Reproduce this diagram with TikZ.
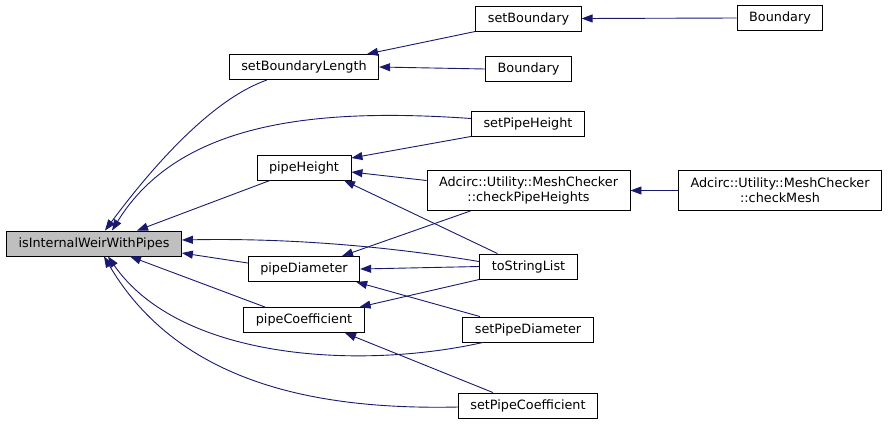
\documentclass[tikz,border=0pt]{standalone}
\usepackage{xcolor}
\usepackage{fontspec}
\setmainfont{DejaVu Sans}
\usepackage{tikz}
\usetikzlibrary{arrows.meta, calc}

\definecolor{edgeblue}{HTML}{191970}
\definecolor{selfgray}{HTML}{BFBFBF}

\tikzset{
    fn/.style={draw=black, line width=0.9pt, fill=white, inner xsep=12pt, inner ysep=0pt,
        minimum height=25pt, align=center, font=\fontsize{12.8}{15}\selectfont},
    self/.style={fn, fill=selfgray},
    call/.style={edgeblue, line width=0.9pt, {Triangle[length=11pt,width=8pt]}-}
}

\begin{document}
\begin{tikzpicture}[x=1pt, y=-1pt]
    \useasboundingbox (0,0) rectangle (888,424);

    \node[self] (isIWWP) at (94,243.5) {isInternalWeirWithPipes};
    \node[fn] (setBoundaryLength) at (304,67) {setBoundaryLength};
    \node[fn] (pipeHeight) at (304,167.5) {pipeHeight};
    \node[fn] (pipeDiameter) at (304,269) {pipeDiameter};
    \node[fn] (pipeCoefficient) at (304,320) {pipeCoefficient};
    \node[fn] (setBoundary) at (528.5,18.5) {setBoundary};
    \node[fn] (boundaryB) at (528.5,69) {Boundary};
    \node[fn] (setPipeHeight) at (528,123.5) {setPipeHeight};
    \node[fn, minimum height=40pt] (checkPipeHeights) at (528.5,190.5) {Adcirc::Utility::MeshChecker\\::checkPipeHeights};
    \node[fn] (toStringList) at (528.5,266.5) {toStringList};
    \node[fn] (setPipeDiameter) at (528,329.5) {setPipeDiameter};
    \node[fn] (setPipeCoefficient) at (528,405.5) {setPipeCoefficient};
    \node[fn] (boundaryA) at (780,18) {Boundary};
    \node[fn, minimum height=40pt] (checkMesh) at (780,190.5) {Adcirc::Utility::MeshChecker\\::checkMesh};

    \draw[call] ([xshift=11]isIWWP.north) .. controls (150,170) and (210,100) .. ([xshift=-37]setBoundaryLength.south);
    \draw[call] ([xshift=18]isIWWP.north) .. controls (180,120) and (320,108) .. ([yshift=5]setPipeHeight.west);
    \draw[call] ([xshift=43]isIWWP.north) -- ([xshift=-34]pipeHeight.south);
    \draw[call] ([yshift=3.5]isIWWP.east) .. controls (280,238) and (380,245) .. ([yshift=-8]toStringList.north west);
    \draw[call] ([yshift=-9.5]isIWWP.east) -- ([yshift=6]pipeDiameter.west);
    \draw[call] ([xshift=36]isIWWP.south) -- ([xshift=-39]pipeCoefficient.north);
    \draw[call] ([xshift=14]isIWWP.south) .. controls (180,360) and (360,370) .. ([xshift=-45]setPipeDiameter.south);
    \draw[call] ([xshift=10]isIWWP.south) .. controls (180,385) and (320,410) .. ([yshift=-1.5]setPipeCoefficient.west);

    \draw[call] ([xshift=63]setBoundaryLength.north) -- (setBoundary.south west);
    \draw[call] (setBoundaryLength.east) -- (boundaryB.west);
    \draw[call] (setBoundary.east) -- (boundaryA.west);

    \draw[call] ([yshift=9.5]pipeHeight.east) -- (setPipeHeight.south west);
    \draw[call] ([yshift=-4.5]pipeHeight.east) -- ([yshift=10]checkPipeHeights.west);
    \draw[call] ([xshift=40]pipeHeight.south) -- ([xshift=-31]toStringList.north);

    \draw[call] ([xshift=38]pipeDiameter.north) -- ([xshift=-58]checkPipeHeights.south);
    \draw[call] (pipeDiameter.east) -- (toStringList.west);
    \draw[call] ([xshift=-4]pipeDiameter.south east) -- ([xshift=-48]setPipeDiameter.north);

    \draw[call] ([xshift=-5]pipeCoefficient.north east) -- (toStringList.south west);
    \draw[call] ([xshift=41]pipeCoefficient.south) -- ([xshift=-35]setPipeCoefficient.north);

    \draw[call] (checkPipeHeights.east) -- (checkMesh.west);
\end{tikzpicture}
\end{document}
